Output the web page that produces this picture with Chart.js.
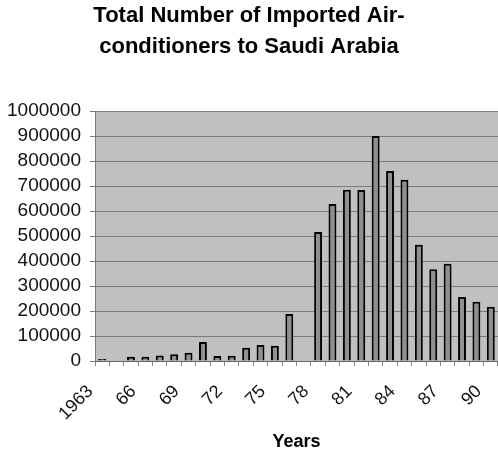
<!DOCTYPE html>
<html lang="en">
<head>
    <meta charset="UTF-8" />
    <title>Imported Air-conditioners</title>
    <script src="https://cdn.jsdelivr.net/npm/chart.js@4"></script>
    <style>
        html, body { margin: 0; padding: 0; background: #fff; }
        #wrap { width: 498px; height: 456px; }
    </style>
</head>
<body>
    <div id="wrap"><canvas id="myChart" width="498" height="456"></canvas></div>
    <script>
        // Data
        const years = ["1963", "1964", "1965", "1966", "1967", "1968", "1969", "1970", "1971", "1972",
            "1973", "1974", "1975", "1976", "1977", "1978", "1979", "1980", "1981", "1982",
            "1983", "1984", "1985", "1986", "1987", "1988", "1989", "1990"];
        const tickLabels = ["1963", "", "", "66", "", "", "69", "", "", "72",
            "", "", "75", "", "", "78", "", "", "81", "",
            "", "84", "", "", "87", "", "", "90"];
        const imported = [8000, null, 17000, 17000, 22000, 27000, 33000, 76000, 20000, 21000,
            53000, 64000, 61000, 188000, null, 516000, 628000, 685000, 684000, 900000,
            760000, 725000, 465000, 367000, 389000, 256000, 237000, 217000];

        const fontFamily = "'Liberation Sans', Arial, sans-serif";

        // grey plot background
        const plotBackground = {
            id: "plotBackground",
            beforeDraw(chart) {
                const { ctx, chartArea } = chart;
                ctx.save();
                ctx.fillStyle = "#c0c0c0";
                ctx.fillRect(chartArea.left, chartArea.top, chartArea.right - chartArea.left, chartArea.bottom - chartArea.top);
                ctx.restore();
            }
        };

        new Chart(document.getElementById("myChart"), {
            type: "bar",
            data: {
                labels: years,
                datasets: [{
                    data: imported,
                    backgroundColor: "#8f8f8f",
                    borderColor: "#000",
                    borderWidth: 2,
                    categoryPercentage: 1,
                    barPercentage: 0.55
                }]
            },
            options: {
                responsive: false,
                animation: false,
                layout: { padding: 0 },
                plugins: {
                    legend: { display: false },
                    tooltip: { enabled: false },
                    title: {
                        display: true,
                        text: ["Total Number of Imported Air-", "conditioners to Saudi Arabia"],
                        color: "#000",
                        font: { family: fontFamily, size: 22, weight: "bold", lineHeight: 1.41 },
                        padding: { top: 0, bottom: 49 }
                    }
                },
                scales: {
                    x: {
                        grid: { drawOnChartArea: false, drawTicks: true, tickLength: 5, color: "#888", offset: true },
                        border: { display: true, color: "#666", width: 1 },
                        ticks: {
                            autoSkip: false,
                            maxRotation: 45,
                            minRotation: 45,
                            padding: 15,
                            labelOffset: -12,
                            color: "#111",
                            font: { family: fontFamily, size: 18 },
                            callback: (value, index) => tickLabels[index]
                        },
                        title: {
                            display: true,
                            text: "Years",
                            color: "#000",
                            font: { family: fontFamily, size: 18, weight: "bold" },
                            padding: { top: 0, bottom: 3 }
                        },
                        afterFit(scale) {
                            scale.height = 95;
                            scale.paddingLeft = 0;
                            scale.paddingRight = 0;
                        }
                    },
                    y: {
                        min: 0,
                        max: 1000000,
                        grid: { color: "#7a7a7a", tickLength: 5, lineWidth: 1 },
                        border: { display: true, color: "#7a7a7a" },
                        ticks: {
                            autoSkip: false,
                            stepSize: 100000,
                            padding: 9,
                            color: "#111",
                            font: { family: fontFamily, size: 19 },
                            callback: (value) => String(value)
                        },
                        afterFit(scale) { scale.width = 95; }
                    }
                }
            },
            plugins: [plotBackground]
        });
    </script>
</body>
</html>
